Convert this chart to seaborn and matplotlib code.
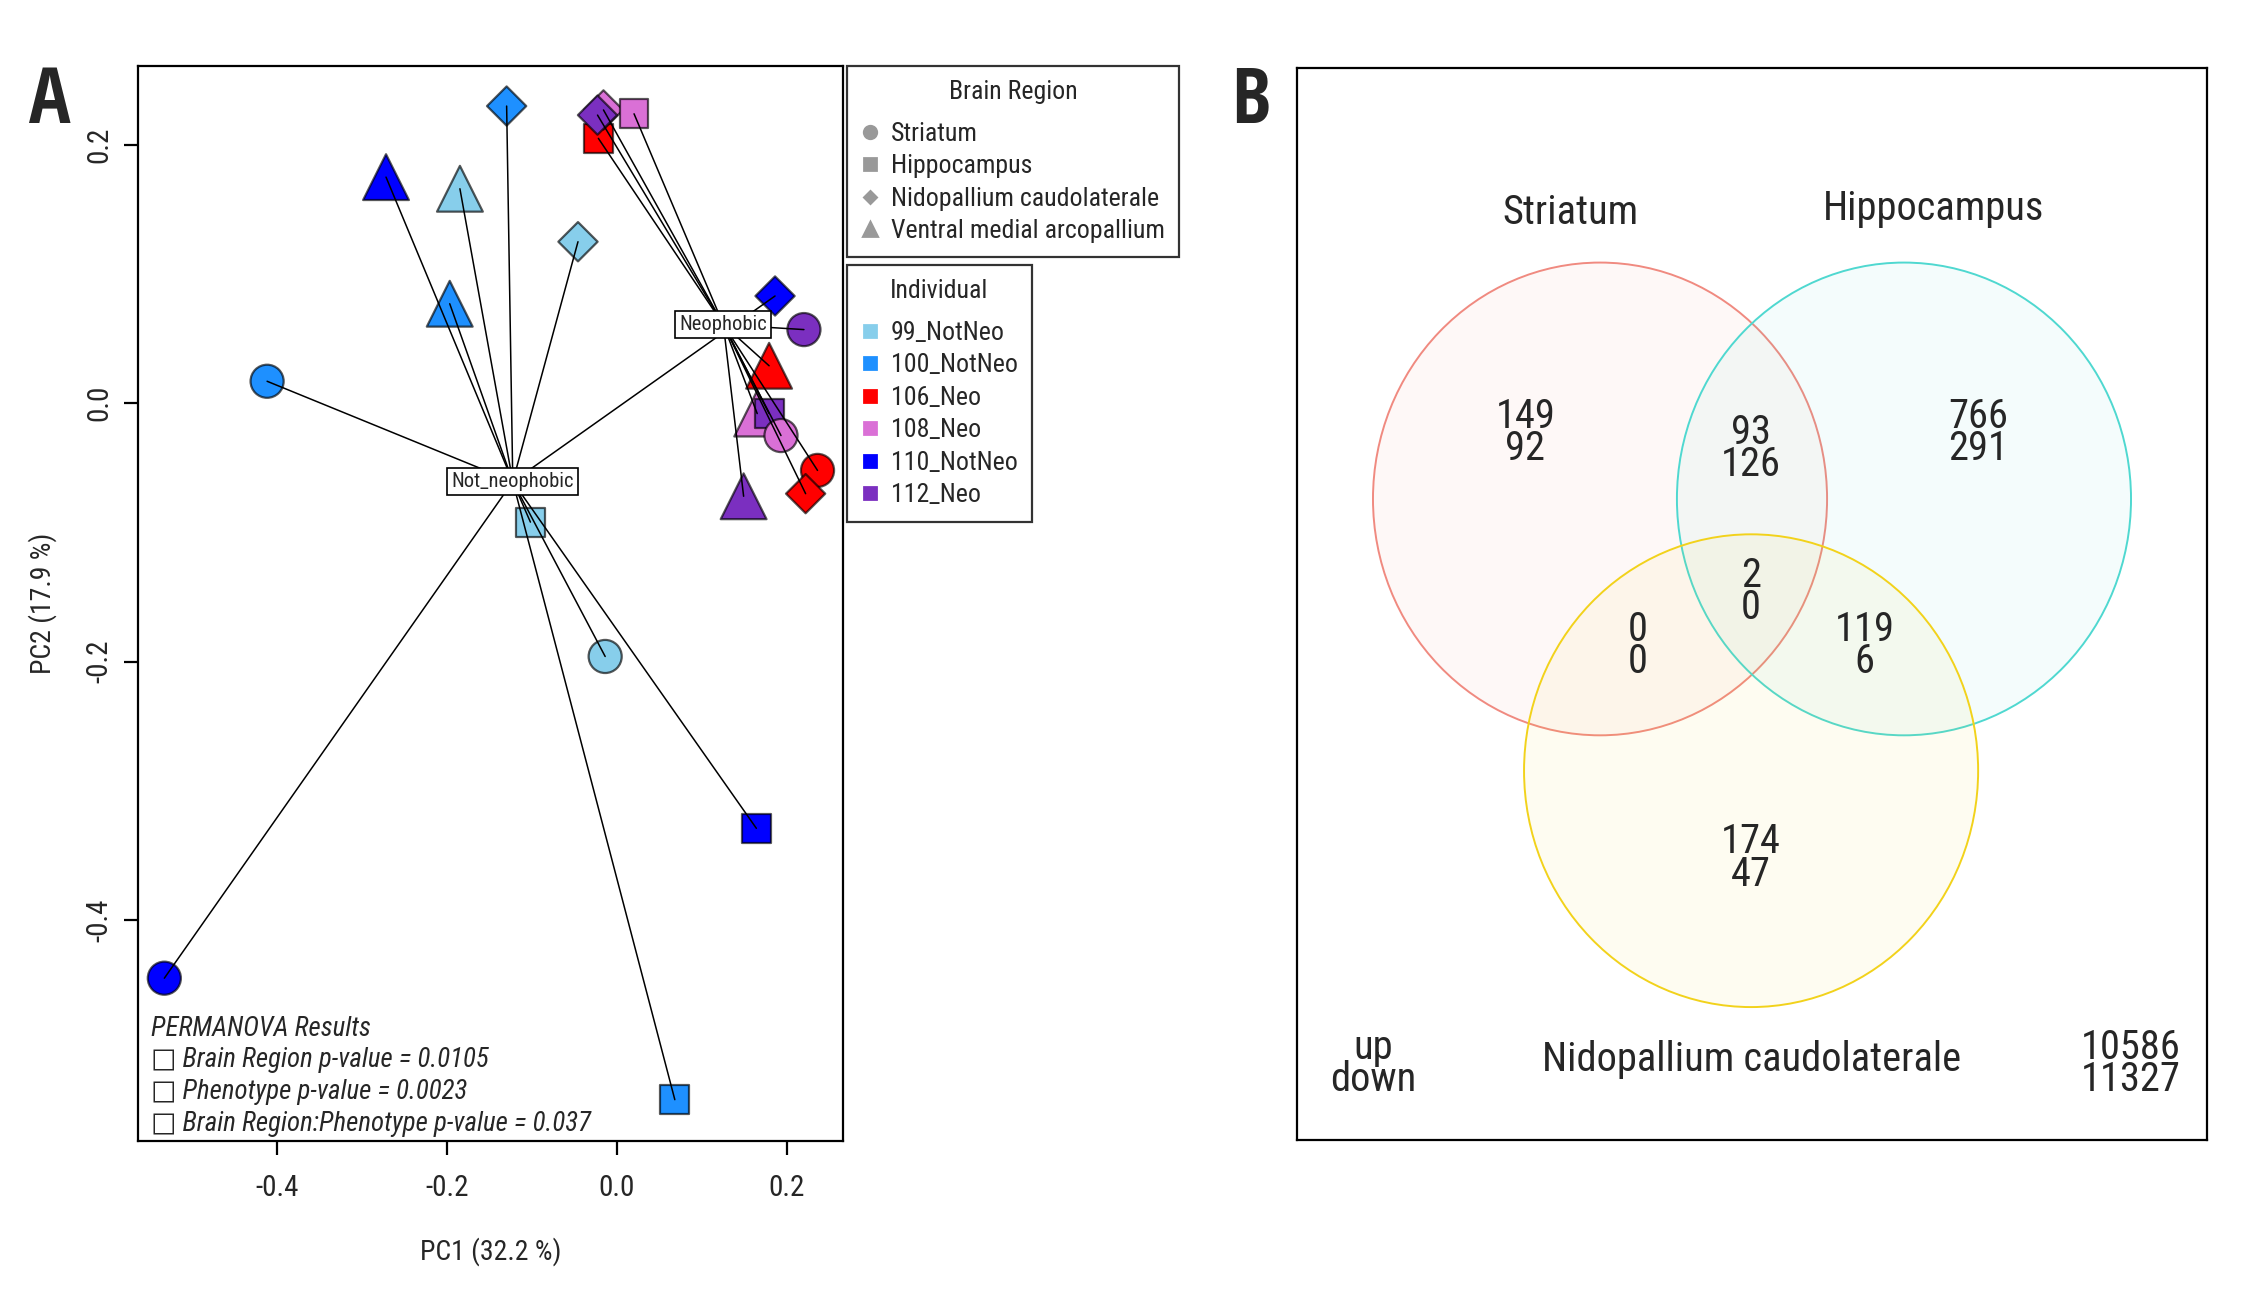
import matplotlib
matplotlib.use("Agg")
import matplotlib.pyplot as plt
from matplotlib import font_manager
from matplotlib.lines import Line2D
from matplotlib.patches import Ellipse
import numpy as np
import pandas as pd
import seaborn as sns

# ---- Panel A data: PCoA scores per sample ----
individuals = ["99_NotNeo", "100_NotNeo", "106_Neo", "108_Neo", "110_NotNeo", "112_Neo"]
ind_colors = ["#87CEEB", "#1E90FF", "#FF0000", "#DA70D6", "#0000FF", "#7B2FC0"]
regions = ["Striatum", "Hippocampus", "Nidopallium caudolaterale", "Ventral medial arcopallium"]
region_markers = ["o", "s", "D", "^"]
region_sizes = [142, 108, 100, 272]

sample_ind = ["100_NotNeo", "110_NotNeo", "99_NotNeo", "99_NotNeo", "100_NotNeo", "100_NotNeo",
              "99_NotNeo", "99_NotNeo", "110_NotNeo", "110_NotNeo", "100_NotNeo", "110_NotNeo",
              "106_Neo", "108_Neo", "112_Neo", "108_Neo", "112_Neo", "106_Neo",
              "108_Neo", "112_Neo", "108_Neo", "106_Neo", "106_Neo", "112_Neo"]
sample_region = ["Nidopallium caudolaterale", "Ventral medial arcopallium", "Ventral medial arcopallium",
                 "Nidopallium caudolaterale", "Ventral medial arcopallium", "Striatum",
                 "Hippocampus", "Striatum", "Hippocampus", "Striatum", "Hippocampus",
                 "Nidopallium caudolaterale",
                 "Hippocampus", "Nidopallium caudolaterale", "Nidopallium caudolaterale", "Hippocampus",
                 "Striatum", "Ventral medial arcopallium", "Ventral medial arcopallium", "Hippocampus",
                 "Striatum", "Striatum", "Nidopallium caudolaterale", "Ventral medial arcopallium"]
pc1 = [-0.130, -0.272, -0.185, -0.046, -0.197, -0.412, -0.102, -0.014, 0.164, -0.533, 0.068, 0.186,
       -0.022, -0.016, -0.023, 0.020, 0.220, 0.179, 0.165, 0.179, 0.193, 0.236, 0.222, 0.149]
pc2 = [0.230, 0.175, 0.166, 0.125, 0.077, 0.017, -0.092, -0.196, -0.329, -0.445, -0.539, 0.083,
       0.205, 0.227, 0.223, 0.224, 0.057, 0.029, -0.008, -0.008, -0.025, -0.052, -0.070, -0.072]

permanova_lines = ["PERMANOVA Results",
                   "\u25a1 Brain Region p-value = 0.0105",
                   "\u25a1 Phenotype p-value = 0.0023",
                   "\u25a1 Brain Region:Phenotype p-value = 0.037"]

# ---- Panel B data: Venn counts (up / down) ----
venn_sets = ["Striatum", "Hippocampus", "Nidopallium caudolaterale"]
venn_colors = ["#F08A80", "#4FD8D0", "#F2D21B"]
venn_up = [149, 93, 766, 0, 2, 119, 174]
venn_down = [92, 126, 291, 0, 0, 6, 47]
total_up = 10586
total_down = 11327

# layout of the venn (axes fraction)
venn_centers = [(0.333, 0.598), (0.667, 0.598), (0.499, 0.3445)]
venn_wh = (0.499, 0.441)
venn_count_pos = [(0.251, 0.660), (0.499, 0.645), (0.749, 0.660), (0.374, 0.461),
                  (0.499, 0.512), (0.624, 0.461), (0.499, 0.263)]
venn_name_pos = [(0.300, 0.865), (0.700, 0.869), (0.499, 0.075)]

# ---- style ----
sns.set_style("white")
names = {f.name for f in font_manager.fontManager.ttflist}


def pick(cands, default="Liberation Sans"):
    for c in cands:
        if c in names:
            return c
    return default


narrow = pick(["Liberation Sans Narrow", "Arial Narrow", "Roboto Condensed", "PT Sans Narrow",
               "Archivo Narrow", "Sofia Sans Condensed"])
heavy = pick(["Open Sans Condensed", "Roboto Condensed", "Fira Sans Condensed"], narrow)
plt.rcParams["font.family"] = [narrow, "DejaVu Sans"]
plt.rcParams["axes.unicode_minus"] = False

W, H = 2254, 1303
fig = plt.figure(figsize=(W / 200, H / 200), dpi=200)

# ================= Panel A =================
ax = fig.add_axes([138 / W, 1 - 1141 / H, 705 / W, 1075 / H])
df = pd.DataFrame({"PC1": pc1, "PC2": pc2, "Individual": sample_ind, "Region": sample_region})
df["Phenotype"] = np.where(df["Individual"].str.contains("NotNeo"), "Not_neophobic", "Neophobic")

sns.scatterplot(data=df, x="PC1", y="PC2", hue="Individual", style="Region", size="Region",
                palette=dict(zip(individuals, ind_colors)),
                markers=dict(zip(regions, region_markers)),
                sizes=dict(zip(regions, region_sizes)),
                edgecolor=(0, 0, 0, 0.65), linewidth=0.8, legend=False, ax=ax, zorder=2)

# spider lines from group centroid to each sample
cents = df.groupby("Phenotype")[["PC1", "PC2"]].mean()
for _, r in df.iterrows():
    cx, cy = cents.loc[r["Phenotype"]]
    ax.plot([cx, r["PC1"]], [cy, r["PC2"]], color="black", lw=0.55, zorder=3)
for ph, r in cents.iterrows():
    ax.text(r["PC1"], r["PC2"], ph, ha="center", va="center", fontsize=7.4, zorder=4,
            bbox=dict(boxstyle="square,pad=0.2", fc="white", ec="black", lw=0.6))

ax.set_xlim(-0.564, 0.266)
ax.set_ylim(-0.571, 0.261)
xt = [-0.4, -0.2, 0.0, 0.2]
ax.set_xticks(xt)
ax.set_xticklabels([f"{v:.1f}" for v in xt])
ax.set_yticks(xt)
ax.set_yticklabels([f"{v:.1f}" for v in xt], rotation=90, va="center")
ax.tick_params(axis="both", direction="out", length=5, width=0.8, labelsize=10.5,
               bottom=True, left=True, color="black")
ax.tick_params(axis="x", pad=7)
ax.tick_params(axis="y", pad=4)
for s in ax.spines.values():
    s.set_color("black")
    s.set_linewidth(0.8)
ax.set_xlabel("PC1 (32.2 %)", fontsize=10)
ax.set_ylabel("PC2 (17.9 %)", fontsize=10)
ax.xaxis.set_label_coords(0.5, -0.103)
ax.xaxis.label.set_va("center")
ax.yaxis.set_label_coords(-0.135, 0.5)
ax.yaxis.label.set_va("center")

ys = [0.104, 0.075, 0.0455, 0.016]
for t, y in zip(permanova_lines, ys):
    ax.text(0.018, y, t, transform=ax.transAxes, style="italic", fontsize=9.7, va="center", ha="left")

# legends
grey = "#999999"
leg_kw = dict(loc="upper left", bbox_transform=fig.transFigure, fontsize=9.3, title_fontsize=9.3,
              frameon=True, fancybox=False, edgecolor="black", handlelength=0.7,
              handletextpad=0.45, labelspacing=0.33, borderpad=0.55, borderaxespad=0)
h1 = [Line2D([], [], ls="none", marker=m, color=grey, markersize=ms)
      for m, ms in zip(region_markers, [4.5, 4, 3, 5])]
leg1 = fig.legend(h1, regions, title="Brain Region", bbox_to_anchor=(847 / W, 1 - 66 / H), **leg_kw)
h2 = [Line2D([], [], ls="none", marker="s", color=c, markersize=4.5) for c in ind_colors]
leg2 = fig.legend(h2, individuals, title="Individual", bbox_to_anchor=(847 / W, 1 - 265 / H), **leg_kw)
for leg in (leg1, leg2):
    leg.get_frame().set_linewidth(0.8)
    leg._legend_box.sep = 6.3  # a bit more room under the title, like the original

# ================= Panel B =================
bx = fig.add_axes([1297 / W, 1 - 1140 / H, 910 / W, 1072 / H])
bx.set_xlim(0, 1)
bx.set_ylim(0, 1)
bx.set_xticks([])
bx.set_yticks([])
for s in bx.spines.values():
    s.set_color("black")
    s.set_linewidth(0.8)

for (cx, cy), col in zip(venn_centers, venn_colors):
    bx.add_patch(Ellipse((cx, cy), venn_wh[0], venn_wh[1], fc=col, alpha=0.06, ec="none"))
    bx.add_patch(Ellipse((cx, cy), venn_wh[0], venn_wh[1], fc="none", ec=col, lw=0.7))

vfs = 14.6
for (x, y), u, d in zip(venn_count_pos, venn_up, venn_down):
    bx.text(x, y, f"{u}\n{d}", ha="center", va="center", fontsize=vfs, linespacing=0.78)
for (x, y), name in zip(venn_name_pos, venn_sets):
    bx.text(x, y, name, ha="center", va="center", fontsize=vfs)
bx.text(0.084, 0.071, "up\ndown", ha="center", va="center", fontsize=vfs, linespacing=0.78)
bx.text(0.916, 0.071, f"{total_up}\n{total_down}", ha="center", va="center",
        fontsize=vfs, linespacing=0.78)

# panel letters
fig.text(50 / W, 1 - 103 / H, "A", fontsize=28, weight="bold", family=[heavy, "DejaVu Sans"],
         ha="center", va="center")
fig.text(1251 / W, 1 - 103 / H, "B", fontsize=28, weight="bold", family=[heavy, "DejaVu Sans"],
         ha="center", va="center")

fig.savefig("out.png", dpi=200)
